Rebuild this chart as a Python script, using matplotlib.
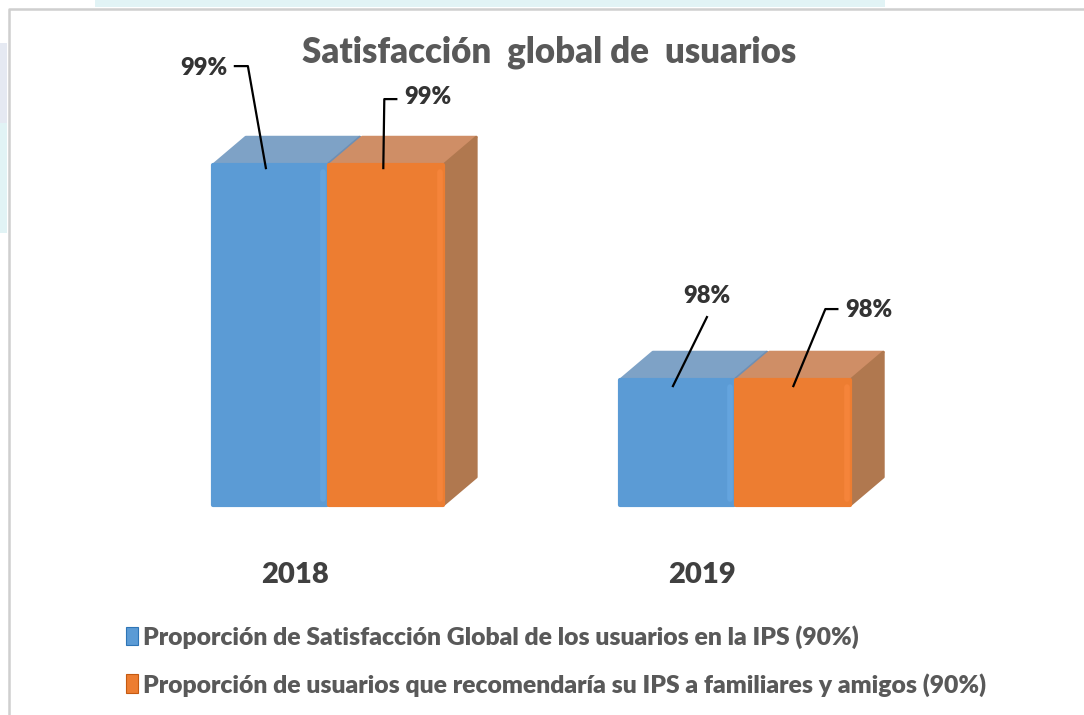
import numpy as np
import matplotlib.pyplot as plt
from matplotlib.patches import Polygon, Patch, Rectangle
from matplotlib.lines import Line2D
from matplotlib.transforms import IdentityTransform

plt.rcParams['font.family'] = ['Lato', 'DejaVu Sans']

years = ['2018', '2019']
satisfaccion = [99, 98]
recomendaria = [99, 98]
labels_sat = ['99%', '98%']
labels_rec = ['99%', '98%']
series_names = ['Proporción de Satisfacción Global de los usuarios en la IPS (90%)',
                'Proporción de usuarios que recomendaría su IPS a familiares y amigos (90%)']
title = 'Satisfacción  global de  usuarios'

W, H = 1084, 715
fig = plt.figure(figsize=(W / 100, H / 100), dpi=100)
fig.patch.set_facecolor('white')

# faint background watermark outside the chart frame
for (x0, y0, x1, y1, c) in [(95, 0, 885, 7, '#e1f3f5'), (0, 43, 7, 123, '#e5e9f2'),
                            (0, 123, 7, 233, '#e1f3f5')]:
    fig.patches.append(Rectangle((x0 / W, 1 - y1 / H), (x1 - x0) / W, (y1 - y0) / H,
                                 transform=fig.transFigure, color=c, lw=0))
# frame (left and top edges visible)
fig.lines.append(Line2D([8.5 / W, 8.5 / W, 1], [0, 1 - 8.5 / H, 1 - 8.5 / H],
                        transform=fig.transFigure, color='#cfcfcf', lw=1.8))

ax = fig.add_axes([0, 0, 1, 1])
ax.set_axis_off()
ax.set_xlim(-0.806, 1.857)
ax.set_ylim(96.442, 99.768)
base = 97.419

x = np.arange(len(years))
w = 0.280
gap = 0.006
ddx = 0.081   # depth offset in x
ddy = 0.130   # depth offset in y

colors = {
    'blue': ('#5b9bd5', '#7ea2c6', '#6f8fb3', '#64a4de'),
    'orange': ('#ed7d31', '#cf8e66', '#b0784f', '#f5843a'),
}

series = [(satisfaccion, 'blue', -1), (recomendaria, 'orange', 1)]
for vals, cname, side in series:
    front, top, sidec, hi = colors[cname]
    xs = x + side * (w / 2 + gap / 2)
    for xc, v in zip(xs, vals):
        x0, x1 = xc - w / 2, xc + w / 2
        ax.add_patch(Polygon([(x0, v), (x0 + ddx, v + ddy), (x1 + ddx, v + ddy), (x1, v)],
                             closed=True, fc=top, ec=top, lw=2, joinstyle='round', zorder=1))
        ax.add_patch(Polygon([(x1, base), (x1 + ddx, base + ddy), (x1 + ddx, v + ddy), (x1, v)],
                             closed=True, fc=sidec, ec=sidec, lw=2, joinstyle='round', zorder=1))
        # soft bevel highlight along the right edge of the front face
        ax.plot([x1 - 0.009, x1 - 0.009], [base + 0.03, v - 0.03], color=hi, lw=4,
                solid_capstyle='round', zorder=4)
    ax.bar(xs, np.array(vals) - base, bottom=base, width=w, color=front, edgecolor=front,
           linewidth=3, joinstyle='round', zorder=3)

# data labels with leader lines (offsets in pixels from the bar top centre)
leaders = {
    ('blue', 0): ((-66, -97), [(-35, -99), (-22, -99), (-4, 3)]),
    ('orange', 0): ((42, -68), [(10, -66), (-2, -66), (-3, 3)]),
    ('blue', 1): ((30, -84), [(30, -63), (-4, 6)]),
    ('orange', 1): ((75, -70), [(44, -71), (32, -71), (0, 6)]),
}
for (vals, cname, side), labs in zip(series, [labels_sat, labels_rec]):
    xs = x + side * (w / 2 + gap / 2)
    for i, (xc, v) in enumerate(zip(xs, vals)):
        toff, pts = leaders[(cname, i)]
        ax.annotate(labs[i], xy=(xc, v), xytext=(toff[0], -toff[1]), textcoords='offset pixels',
                    ha='center', va='center', fontsize=17, fontweight='heavy', color='#333333',
                    zorder=5)
        ax0, ay0 = ax.transData.transform((xc, v))
        px = [ax0 + p[0] for p in pts]
        py = [ay0 - p[1] for p in pts]
        ln = Line2D(px, py, color='black', lw=1.6, zorder=6)
        ln.set_transform(IdentityTransform())
        fig.lines.append(ln)

# category labels
for xi, yr in zip(x, years):
    ax.text(xi - ddx, 1 - 575 / H, yr, transform=ax.get_xaxis_transform(), ha='center',
            va='center', fontsize=21, fontweight='heavy', color='#404040')

fig.text(0.507, 1 - 52 / H, title, ha='center', va='center', fontsize=25,
         fontweight='heavy', color='#595959')

handles = [Patch(facecolor=colors['blue'][0], edgecolor='#2e75b6', lw=0.8),
           Patch(facecolor=colors['orange'][0], edgecolor='#c55a11', lw=0.8)]
leg = fig.legend(handles, series_names, loc='upper left', bbox_to_anchor=(126 / W, 1 - 625 / H),
                 frameon=False, borderpad=0, borderaxespad=0, handlelength=0.5, handleheight=0.8,
                 handletextpad=0.2, labelspacing=0.98,
                 prop={'weight': 'heavy', 'size': 17.8})
for t in leg.get_texts():
    t.set_color('#595959')

fig.savefig('out.png', dpi=100)
